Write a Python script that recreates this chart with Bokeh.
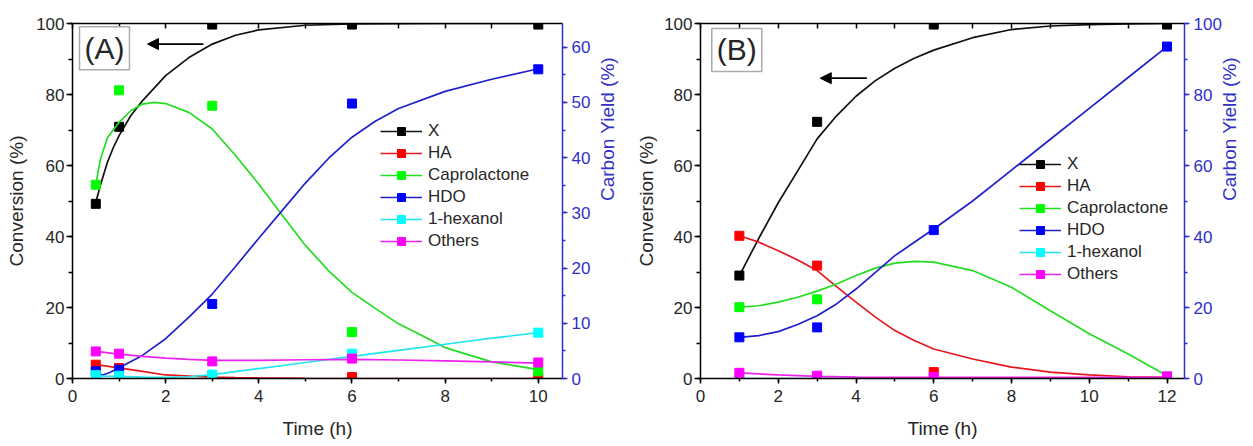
import math
from bokeh.plotting import figure
from bokeh.models import (Range1d, LinearAxis, SingleIntervalTicker, FixedTicker, Legend, LegendItem,
                          Label, Arrow, NormalHead)
from bokeh.layouts import row
from bokeh.embed import file_html
from bokeh.resources import INLINE

FONT = "Liberation Sans"

# ---------------- Panel A data (X on left axis, products on right axis) ----------------
tA = [0.5, 1, 3, 6, 10]
xA = [49.2, 70.9, 99.7, 99.7, 99.7]
haA = [2.5, 1.9, 0.25, 0.25, 0.1]
capA = [35.1, 52.2, 49.4, 8.4, 1.3]
hdoA = [1.3, 1.6, 13.5, 49.8, 56.0]
hexA = [0.6, 0.5, 0.7, 4.5, 8.3]
othA = [4.9, 4.5, 3.1, 3.6, 2.9]

# fitted curves
fit_x_tA = [0.5, 0.6, 0.75, 0.875, 1, 1.25, 1.5, 2, 2.5, 3, 3.5, 4, 5, 6, 8, 10]
fit_x_A = [49.6, 54.5, 60.9, 65.0, 68.4, 74.0, 78.2, 85.3, 90.4, 94.2, 96.7, 98.2, 99.5, 99.9, 100, 100]
fit_ha_tA = [0.5, 1, 1.5, 2, 2.5, 3, 3.5, 4, 5, 6, 8, 10]
fit_ha_A = [2.5, 1.93, 1.29, 0.64, 0.45, 0.26, 0.15, 0.1, 0.03, 0.0, 0.0, 0.0]
fit_cap_tA = [0.5, 0.6, 0.75, 1, 1.25, 1.5, 1.75, 2, 2.5, 3, 3.5, 4, 4.5, 5, 5.5, 6, 6.5, 7, 7.5, 8, 9, 10]
fit_cap_A = [35.2, 39.7, 43.6, 46.4, 48.5, 49.7, 50.0, 49.8, 48.2, 45.2, 40.4, 35.2, 29.6, 24.1,
             19.5, 15.6, 12.7, 9.9, 7.8, 5.6, 3.0, 1.6]
fit_hdo_tA = [0.5, 0.65, 0.8, 1, 1.5, 2, 2.5, 3, 3.5, 4, 4.5, 5, 5.5, 6, 6.5, 7, 8, 9, 10]
fit_hdo_A = [0.96, 0.64, 1.09, 1.93, 4.18, 7.2, 11.1, 15.3, 20.3, 25.4, 30.4, 35.4, 39.9, 43.7,
             46.6, 48.9, 52.0, 54.2, 56.1]
fit_hex_tA = [0.5, 1, 1.5, 2, 2.5, 3, 4, 5, 6, 7, 8, 9, 10]
fit_hex_A = [0.45, 0.39, 0.26, 0.19, 0.32, 0.71, 1.8, 2.9, 4.0, 5.1, 6.2, 7.3, 8.3]
fit_oth_tA = [0.5, 1, 1.5, 2, 2.5, 3, 4, 5, 6, 7, 8, 9, 10]
fit_oth_A = [4.9, 4.4, 4.0, 3.7, 3.45, 3.3, 3.3, 3.4, 3.45, 3.35, 3.2, 3.0, 2.8]

# ---------------- Panel B data ----------------
tB = [1, 3, 6, 12]
xB = [29.0, 72.3, 99.7, 99.7]
haB = [40.2, 31.8, 1.8, 0.3]
cap_tB = [1, 3, 12]
capB = [20.1, 22.3, 0.5]
hdoB = [11.6, 14.4, 41.8, 93.5]
hexB = [0.0, 0.0, 0.0, 0.0]
othB = [1.6, 0.8, 0.4, 0.6]

fit_tB = [1, 1.5, 2, 2.5, 3, 3.5, 4, 4.5, 5, 5.5, 6, 7, 8, 9, 10, 11, 12]
fit_x_B = [29.0, 39.5, 49.5, 58.5, 67.5, 74.0, 79.5, 83.9, 87.4, 90.2, 92.5, 96.0, 98.3, 99.3, 99.7, 99.9, 100]
fit_ha_B = [40.2, 38.4, 36.0, 33.4, 30.4, 25.9, 21.5, 17.3, 13.5, 10.7, 8.3, 5.5, 3.2, 1.8, 1.0, 0.5, 0.3]
fit_cap_B = [20.1, 20.5, 21.5, 22.9, 24.6, 26.6, 29.0, 31.1, 32.5, 33.0, 32.8, 30.4, 25.7, 19.1, 12.6, 6.9, 0.8]
fit_hdo_B = [11.6, 12.1, 13.2, 15.2, 17.7, 21.0, 25.2, 29.9, 34.6, 38.4, 42.1, 50.0, 58.7, 67.4, 76.1, 84.8, 93.5]
fit_hex_tB = [1, 12]
fit_hex_B = [0.0, 0.0]
fit_oth_tB = [1, 2, 3, 4, 6, 12]
fit_oth_B = [1.6, 1.0, 0.6, 0.4, 0.3, 0.3]

labels = ["X", "HA", "Caprolactone", "HDO", "1-hexanol", "Others"]
mcolors = ["#000000", "#ff0000", "#00ff00", "#0000ff", "#00ffff", "#ff00ff"]
lcolors = ["#111111", "#e8161a", "#22dd22", "#2020cc", "#22e6ee", "#ee22ee"]
AXBLUE = "#3030c8"
TXT = "#262626"


def make_fig(width, xmax, right_max, right_interval, mb_left, mb_right, left_tick_out, left_standoff,
             left_title_standoff, right_label_standoff, right_title_standoff):
    p = figure(width=width, height=446, x_range=Range1d(0, xmax), y_range=Range1d(0, 100),
               x_axis_type=None, y_axis_type=None, output_backend="svg", toolbar_location=None,
               min_border_left=mb_left, min_border_right=mb_right, min_border_top=23,
               min_border_bottom=68)
    p.extra_y_ranges = {"right": Range1d(0, right_max)}
    p.outline_line_color = None
    p.background_fill_color = "white"

    bottom = LinearAxis(ticker=SingleIntervalTicker(interval=2, num_minor_ticks=2), axis_label="Time (h)")
    top = LinearAxis(ticker=FixedTicker(ticks=[], minor_ticks=list(range(0, int(xmax) + 1))))
    left = LinearAxis(ticker=SingleIntervalTicker(interval=20, num_minor_ticks=2), axis_label="Conversion (%)")
    right = LinearAxis(y_range_name="right", ticker=SingleIntervalTicker(interval=right_interval, num_minor_ticks=2),
                       axis_label="Carbon Yield (%)")
    for ax in (bottom, top, left, right):
        ax.axis_line_width = 1.5
        ax.major_tick_line_width = 1.5
        ax.minor_tick_line_width = 1.5
        ax.major_label_text_font = FONT
        ax.major_label_text_font_size = "17px"
        ax.major_label_text_color = TXT
        ax.axis_label_text_font = FONT
        ax.axis_label_text_font_size = "19px"
        ax.axis_label_text_font_style = "normal"
        ax.axis_label_text_color = TXT
    bottom.major_tick_in = 0; bottom.major_tick_out = 5
    bottom.minor_tick_in = 0; bottom.minor_tick_out = 3
    bottom.major_label_standoff = 6; bottom.axis_label_standoff = 13
    top.major_tick_in = 0; top.major_tick_out = 0
    top.minor_tick_in = 5; top.minor_tick_out = 0
    top.major_label_standoff = 0
    left.major_tick_in = 0; left.major_tick_out = left_tick_out
    left.minor_tick_in = 0; left.minor_tick_out = 4
    left.major_label_standoff = left_standoff; left.axis_label_standoff = left_title_standoff
    right.major_tick_in = 0; right.major_tick_out = 5
    right.minor_tick_in = 0; right.minor_tick_out = 3
    right.major_label_standoff = right_label_standoff
    right.axis_label_standoff = right_title_standoff
    right.axis_line_color = AXBLUE
    right.major_tick_line_color = AXBLUE
    right.minor_tick_line_color = AXBLUE
    right.major_label_text_color = AXBLUE
    right.axis_label_text_color = AXBLUE
    right.axis_label_orientation = math.pi / 2
    p.add_layout(bottom, "below")
    p.add_layout(top, "above")
    p.add_layout(left, "left")
    p.add_layout(right, "right")
    return p


def add_series(p, i, ft, fy, t, y, rng):
    kw = {} if rng is None else {"y_range_name": rng}
    l = p.line(ft, fy, line_color=lcolors[i], line_width=1.7, **kw)
    s = p.scatter(t, y, marker="square", size=9, fill_color=mcolors[i], line_color=mcolors[i], **kw)
    return LegendItem(label=labels[i], renderers=[l, s])


def add_legend(p, items, loc):
    lg = Legend(items=items, location=loc, glyph_width=42, glyph_height=20, label_standoff=6,
                spacing=2, padding=0, margin=0, border_line_color=None, background_fill_alpha=0,
                label_text_font=FONT, label_text_font_size="17px", label_text_color=TXT, label_height=20)
    p.add_layout(lg)


# ---------- Panel A ----------
pA = make_fig(633, 10.52, 64.3, 10, 72, 71, 6, 2, 6, 4, 14)
itemsA = [
    add_series(pA, 0, fit_x_tA, fit_x_A, tA, xA, None),
    add_series(pA, 1, fit_ha_tA, fit_ha_A, tA, haA, "right"),
    add_series(pA, 2, fit_cap_tA, fit_cap_A, tA, capA, "right"),
    add_series(pA, 3, fit_hdo_tA, fit_hdo_A, tA, hdoA, "right"),
    add_series(pA, 4, fit_hex_tA, fit_hex_A, tA, hexA, "right"),
    add_series(pA, 5, fit_oth_tA, fit_oth_A, tA, othA, "right"),
]
add_legend(pA, itemsA, (308, 127))
pA.add_layout(Label(x=0.15, y=99.07, text="(A)", text_font=FONT, text_font_size="30px", text_color=TXT,
                    text_align="left", text_baseline="top", anchor="top_left", padding=5,
                    border_line_color="#aaaaaa", border_line_width=1.5, background_fill_color="white"))
pA.add_layout(Arrow(end=NormalHead(size=11, fill_color="black", line_color="black"),
                    x_start=2.81, y_start=94.2, x_end=1.61, y_end=94.2, line_width=1.8, line_color="black"))

# ---------- Panel B ----------
pB = make_fig(620, 12.45, 100, 20, 66, 67, 6, 2, 4, 4, 5)
itemsB = [
    add_series(pB, 0, fit_tB, fit_x_B, tB, xB, None),
    add_series(pB, 1, fit_tB, fit_ha_B, tB, haB, "right"),
    add_series(pB, 2, fit_tB, fit_cap_B, cap_tB, capB, "right"),
    add_series(pB, 3, fit_tB, fit_hdo_B, tB, hdoB, "right"),
    add_series(pB, 4, fit_hex_tB, fit_hex_B, tB, hexB, "right"),
    add_series(pB, 5, fit_oth_tB, fit_oth_B, tB, othB, "right"),
]
add_legend(pB, itemsB, (319, 94))
pB.add_layout(Label(x=0.29, y=98.6, text="(B)", text_font=FONT, text_font_size="30px", text_color=TXT,
                    text_align="left", text_baseline="top", anchor="top_left", padding=5,
                    border_line_color="#aaaaaa", border_line_width=1.5, background_fill_color="white"))
pB.add_layout(Arrow(end=NormalHead(size=11, fill_color="black", line_color="black"),
                    x_start=4.28, y_start=84.6, x_end=3.08, y_end=84.6, line_width=1.8, line_color="black"))

layout = row(pA, pB)
open("out.html", "w").write(file_html(layout, INLINE))
